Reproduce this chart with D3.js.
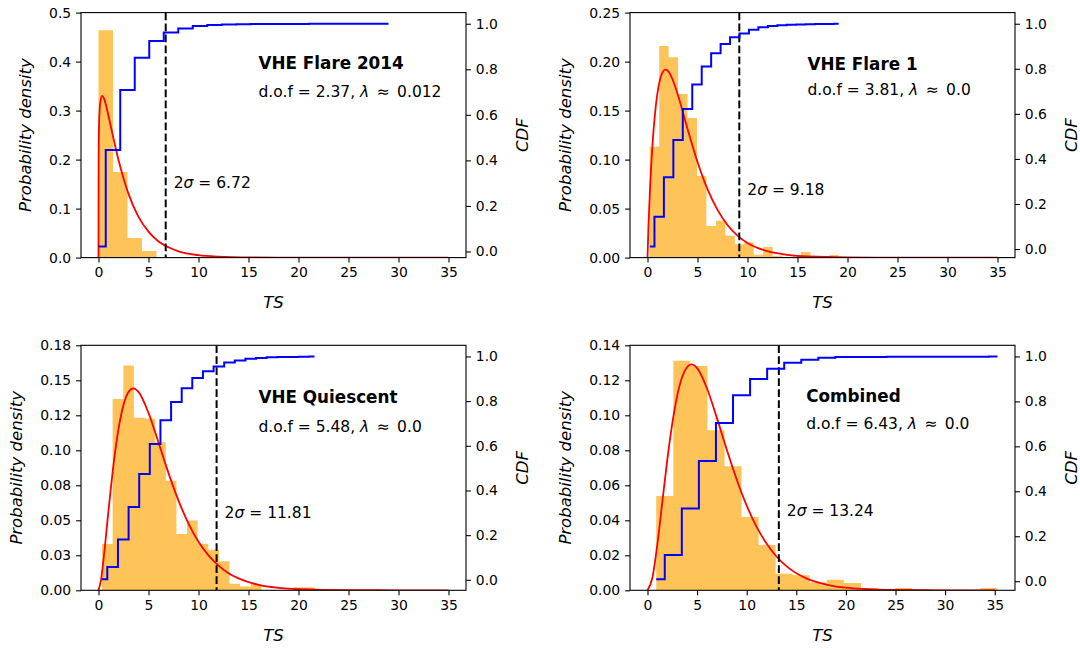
<!DOCTYPE html>
<html>
<head>
<meta charset="utf-8">
<script src="https://cdn.jsdelivr.net/npm/d3@7"></script>
<style>
  body { margin: 0; background: #fff; }
  text { font-family: "DejaVu Sans", sans-serif; fill: #000; white-space: pre; }
</style>
</head>
<body>
<div id="chart"></div>
<script>
// ---- data ----
const panelNames = ["VHE Flare 2014", "VHE Flare 1", "VHE Quiescent", "Combined"];
const dofText = ["2.37", "3.81", "5.48", "6.43"];
const lambdaText = ["0.012", "0.0", "0.0", "0.0"];
const sigma2 = [6.72, 9.18, 11.81, 13.24];

// histogram bin edges (also the x points of the CDF steps)
const edges1 = [0, 1.45, 2.9, 4.35, 5.8, 7.25, 8.7, 10.15, 11.6, 13.05, 14.5, 15.95, 17.4, 18.85, 20.3, 21.75, 23.2, 24.65, 26.1, 27.55, 29.0];
const edges2 = [0.22, 1.17, 2.11, 3.06, 4.0, 4.95, 5.89, 6.84, 7.78, 8.73, 9.67, 10.62, 11.56, 12.51, 13.45, 14.4, 15.34, 16.29, 17.23, 18.18, 19.12];
const edges3 = [0.35, 1.41, 2.48, 3.54, 4.6, 5.66, 6.73, 7.79, 8.85, 9.91, 10.98, 12.04, 13.1, 14.16, 15.23, 16.29, 17.35, 18.41, 19.48, 20.54, 21.6];
const edges4 = [0.88, 2.6, 4.32, 6.04, 7.76, 9.48, 11.2, 12.92, 14.64, 16.36, 18.08, 19.8, 21.52, 23.24, 24.96, 26.68, 28.4, 30.12, 31.84, 33.56, 35.28];

// histogram densities
const hist1 = [0.464, 0.1746, 0.0398, 0.0135, 0.0005, 0.0003, 0.0002, 0.0001, 0, 0, 0, 0, 0, 0, 0, 0, 0, 0, 0, 0.0002];
const hist2 = [0.1131, 0.216, 0.2044, 0.167, 0.1425, 0.0832, 0.0322, 0.0376, 0.0223, 0.0135, 0.0155, 0.003, 0.0107, 0.002, 0, 0.001, 0.0056, 0, 0, 0.0026];
const hist3 = [0.0331, 0.1367, 0.1605, 0.1232, 0.1228, 0.1058, 0.0783, 0.0402, 0.0498, 0.0333, 0.029, 0.0207, 0.0047, 0.0028, 0.0045, 0, 0, 0, 0.0021, 0.0021];
const hist4 = [0.0539, 0.1311, 0.1281, 0.0915, 0.0709, 0.0419, 0.0259, 0.0095, 0.0086, 0.0045, 0.006, 0.0042, 0.0013, 0.0004, 0.0013, 0.0004, 0, 0, 0, 0.0013];

// CDF values at the edges
const cdf1 = [0.022, 0.446, 0.709, 0.851, 0.924, 0.961, 0.979, 0.99, 0.995, 0.997, 0.998, 0.999, 0.999, 0.999, 0.999, 1.0, 1.0, 1.0, 1.0, 1.0, 1.0];
const cdf2 = [0.0115, 0.143, 0.319, 0.4845, 0.622, 0.73, 0.81, 0.869, 0.91, 0.94, 0.957, 0.973, 0.984, 0.99, 0.993, 0.995, 0.997, 0.998, 0.999, 0.999, 1.0];
const cdf3 = [0.003, 0.058, 0.18, 0.326, 0.474, 0.608, 0.714, 0.796, 0.858, 0.903, 0.934, 0.955, 0.973, 0.982, 0.99, 0.993, 0.996, 0.997, 0.998, 0.999, 1.0];
const cdf4 = [0.009, 0.117, 0.323, 0.535, 0.704, 0.827, 0.9, 0.945, 0.972, 0.985, 0.994, 0.997, 0.998, 0.998, 0.999, 0.999, 0.999, 0.999, 0.999, 0.999, 1.0];

// fitted pdf curve
const pdfX1 = [0, 0.01, 0.02, 0.05, 0.1, 0.2, 0.37, 0.5, 0.75, 1, 1.5, 2, 2.5, 3, 4, 5, 6, 7, 8, 10, 12, 15, 20, 25, 30, 35];
const pdfY1 = [0, 0.202, 0.229, 0.267, 0.296, 0.32, 0.33, 0.327, 0.311, 0.289, 0.243, 0.199, 0.162, 0.13, 0.083, 0.053, 0.033, 0.021, 0.0128, 0.0049, 0.0019, 0.0004, 0.00004, 0, 0, 0];
const pdfX2 = [0, 0.1, 0.25, 0.5, 0.75, 1, 1.25, 1.5, 1.81, 2, 2.5, 3, 4, 5, 6, 7, 8, 9, 10, 12, 14, 16, 20, 25, 30, 35];
const pdfY2 = [0, 0.0328, 0.0698, 0.1153, 0.1468, 0.1681, 0.1816, 0.189, 0.1918, 0.1909, 0.182, 0.1671, 0.1315, 0.0976, 0.0698, 0.0487, 0.0333, 0.0225, 0.015, 0.0065, 0.0028, 0.0011, 0.0002, 0.00002, 0, 0];
const pdfX3 = [0, 0.25, 0.5, 1, 1.5, 2, 2.5, 3, 3.48, 4, 5, 6, 7, 8, 9, 10, 11, 12, 13, 14, 16, 18, 20, 25, 30, 35];
const pdfY3 = [0, 0.0074, 0.0219, 0.0569, 0.0898, 0.1153, 0.1324, 0.1416, 0.1442, 0.1417, 0.1267, 0.1056, 0.0837, 0.0641, 0.0477, 0.0347, 0.0249, 0.0176, 0.0122, 0.0085, 0.0039, 0.0018, 0.0008, 0.0001, 0, 0];
const pdfX4 = [0, 0.5, 1, 1.5, 2, 2.5, 3, 3.5, 4, 4.43, 5, 6, 7, 8, 9, 10, 11, 12, 13, 14, 16, 18, 20, 22, 25, 30, 35];
const pdfY4 = [0, 0.0073, 0.0266, 0.0508, 0.0748, 0.0954, 0.1113, 0.122, 0.1276, 0.1291, 0.127, 0.1153, 0.0984, 0.0802, 0.0632, 0.0484, 0.0362, 0.0267, 0.0193, 0.0138, 0.0068, 0.0033, 0.0015, 0.0007, 0.0002, 0, 0];

// axis ticks
const xTicks = [0, 5, 10, 15, 20, 25, 30, 35];
const yMax = [0.5, 0.25, 0.175, 0.14];
const yTicks = [
    [0, 0.1, 0.2, 0.3, 0.4, 0.5],
    [0, 0.05, 0.1, 0.15, 0.2, 0.25],
    [0, 0.025, 0.05, 0.075, 0.1, 0.125, 0.15, 0.175],
    [0, 0.02, 0.04, 0.06, 0.08, 0.1, 0.12, 0.14]
];
const yTickLabels = [
    ["0.0", "0.1", "0.2", "0.3", "0.4", "0.5"],
    ["0.00", "0.05", "0.10", "0.15", "0.20", "0.25"],
    ["0.00", "0.03", "0.05", "0.08", "0.10", "0.12", "0.15", "0.18"],
    ["0.00", "0.02", "0.04", "0.06", "0.08", "0.10", "0.12", "0.14"]
];
const cdfTicks = [0, 0.2, 0.4, 0.6, 0.8, 1.0];

const allEdges = [edges1, edges2, edges3, edges4];
const allHist = [hist1, hist2, hist3, hist4];
const allCdf = [cdf1, cdf2, cdf3, cdf4];
const allPdfX = [pdfX1, pdfX2, pdfX3, pdfX4];
const allPdfY = [pdfY1, pdfY2, pdfY3, pdfY4];

// ---- layout ----
let width = 1080;
let height = 648;
const frames = [
    {left: 81, top: 12.6}, {left: 630, top: 12.6},
    {left: 81, top: 345.3}, {left: 630, top: 345.3}
];
const plotW = 385, plotH = 245;
// y centres of title, d.o.f line and 2 sigma label (from panel top)
const annotY = [[50.6, 78, 169.3], [51.8, 76.1, 176.1], [52.2, 80.7, 167.2], [50.5, 78, 164.5]];
const ylabelGap = [50.5, 59.5, 59.5, 59.5];
const tickFont = 13.9;
const labelFont = 16.5;
const annotFont = 15.5;

let svg = d3.select("#chart")
    .append("svg")
    .attr("width", width)
    .attr("height", height);

svg.append("rect").attr("width", width).attr("height", height).attr("fill", "#fff");

function styleAxis(g) {
    g.select(".domain").remove();
    g.selectAll(".tick line").attr("stroke", "#000").attr("stroke-width", 1.1);
    g.selectAll(".tick text")
        .attr("font-family", "DejaVu Sans")
        .attr("font-size", tickFont)
        .attr("fill", "#000");
    g.attr("font-family", null).attr("font-size", null);
}

function drawPanel(i) {
    const f = frames[i];
    const edges = allEdges[i];
    const hist = allHist[i];
    const cdf = allCdf[i];
    const pdfX = allPdfX[i];
    const pdfY = allPdfY[i];

    let g = svg.append("g").attr("transform", `translate(${f.left},${f.top})`);

    // matplotlib style autoscale with 5% margins
    let xr = d3.extent(pdfX.concat(edges));
    let xpad = (xr[1] - xr[0]) * 0.05;
    let x = d3.scaleLinear().domain([xr[0] - xpad, xr[1] + xpad]).range([0, plotW]);
    let y = d3.scaleLinear().domain([0, yMax[i]]).range([plotH, 0]);
    let cr = d3.extent(cdf);
    let cpad = (cr[1] - cr[0]) * 0.05;
    let y2 = d3.scaleLinear().domain([cr[0] - cpad, cr[1] + cpad]).range([plotH, 0]);

    const clipId = "clip" + i;
    g.append("clipPath").attr("id", clipId)
        .append("rect").attr("width", plotW).attr("height", plotH);
    let plot = g.append("g").attr("clip-path", `url(#${clipId})`);

    // histogram as one stepped area, so neighbouring bars show no seams
    let histPts = hist.map((h, k) => [edges[k], h]);
    histPts.push([edges[edges.length - 1], hist[hist.length - 1]]);
    plot.append("path")
        .datum(histPts)
        .attr("fill", "orange")
        .attr("fill-opacity", 0.65)
        .attr("d", d3.area()
            .x(d => x(d[0]))
            .y0(y(0))
            .y1(d => y(d[1]))
            .curve(d3.curveStepAfter));

    // fitted pdf
    plot.append("path")
        .datum(pdfX.map((v, k) => [v, pdfY[k]]))
        .attr("fill", "none")
        .attr("stroke", "#ff0000")
        .attr("stroke-width", 1.8)
        .attr("d", d3.line()
            .x(d => x(d[0]))
            .y(d => y(d[1]))
            .curve(d3.curveMonotoneX));

    // 2 sigma threshold
    plot.append("line")
        .attr("x1", x(sigma2[i])).attr("x2", x(sigma2[i]))
        .attr("y1", 0).attr("y2", plotH)
        .attr("stroke", "#000")
        .attr("stroke-width", 2)
        .attr("stroke-dasharray", "7.7,3.3");

    // CDF on the twin axis
    plot.append("path")
        .datum(edges.map((v, k) => [v, cdf[k]]))
        .attr("fill", "none")
        .attr("stroke", "#0000ff")
        .attr("stroke-width", 2)
        .attr("d", d3.line()
            .x(d => x(d[0]))
            .y(d => y2(d[1]))
            .curve(d3.curveStep));

    // frame
    g.append("rect")
        .attr("width", plotW).attr("height", plotH)
        .attr("fill", "none")
        .attr("stroke", "#000")
        .attr("stroke-width", 1.1);

    // axes
    g.append("g")
        .attr("transform", `translate(0,${plotH})`)
        .call(d3.axisBottom(x).tickValues(xTicks).tickFormat(d3.format("d"))
            .tickSize(4.9).tickPadding(4.6))
        .call(styleAxis);

    g.append("g")
        .call(d3.axisLeft(y).tickValues(yTicks[i]).tickFormat((d, k) => yTickLabels[i][k])
            .tickSize(4.9).tickPadding(4.9))
        .call(styleAxis);

    g.append("g")
        .attr("transform", `translate(${plotW},0)`)
        .call(d3.axisRight(y2).tickValues(cdfTicks).tickFormat(d3.format(".1f"))
            .tickSize(4.9).tickPadding(4.9))
        .call(styleAxis);

    // axis labels
    g.append("text")
        .attr("x", plotW / 2).attr("y", plotH + 50.5)
        .attr("text-anchor", "middle")
        .attr("font-style", "italic")
        .attr("font-size", labelFont)
        .text("TS");

    g.append("text")
        .attr("transform", `translate(${-ylabelGap[i]},${plotH / 2}) rotate(-90)`)
        .attr("text-anchor", "middle")
        .attr("font-style", "italic")
        .attr("font-size", labelFont)
        .text("Probability density");

    g.append("text")
        .attr("transform", `translate(${plotW + 61.5},${plotH / 2}) rotate(-90)`)
        .attr("text-anchor", "middle")
        .attr("font-style", "italic")
        .attr("font-size", labelFont)
        .text("CDF");

    // annotations
    g.append("text")
        .attr("x", x(16)).attr("y", annotY[i][0] + 6)
        .attr("font-weight", "bold")
        .attr("font-size", 16.8)
        .text(panelNames[i]);

    let dof = g.append("text")
        .attr("x", x(16)).attr("y", annotY[i][1] + 6)
        .attr("font-size", annotFont);
    dof.append("tspan").text(`d.o.f = ${dofText[i]}, `);
    dof.append("tspan").attr("font-style", "italic").text("λ");
    dof.append("tspan").attr("dx", 2.5).text(" ≈ ");
    dof.append("tspan").attr("dx", 2.5).text(lambdaText[i]);

    let sig = g.append("text")
        .attr("x", x(sigma2[i] + 0.8)).attr("y", annotY[i][2] + 6)
        .attr("font-size", annotFont);
    sig.append("tspan").text("2");
    sig.append("tspan").attr("font-style", "italic").text("σ");
    sig.append("tspan").text(` = ${sigma2[i].toFixed(2)}`);
}

[0, 1, 2, 3].forEach(drawPanel);
</script>
</body>
</html>
